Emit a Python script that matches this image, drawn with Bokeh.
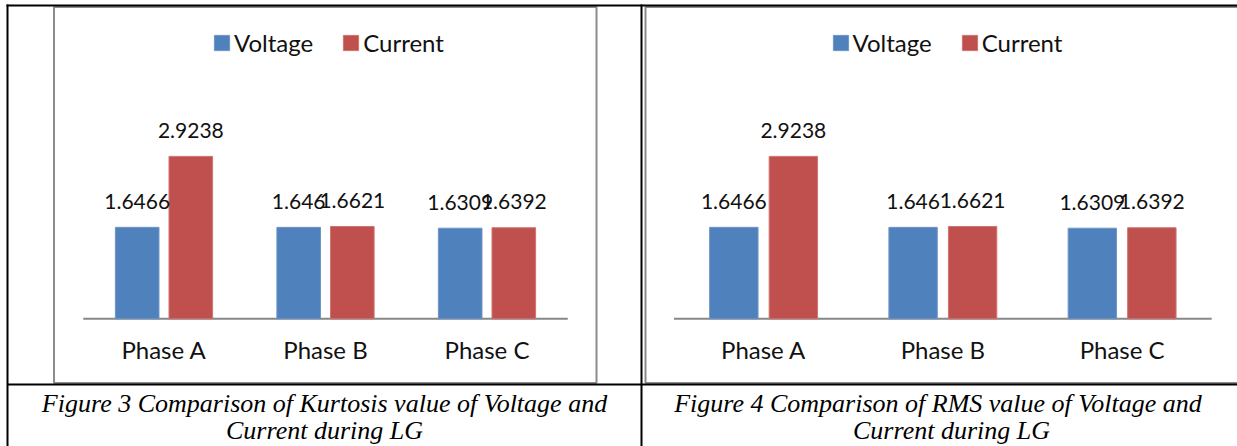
import numpy as np
from bokeh.plotting import figure
from bokeh.models import Range1d, ColumnDataSource, Legend, LegendItem
from bokeh.transform import dodge
from bokeh.core.properties import value
from bokeh.embed import file_html
from bokeh.resources import INLINE

# ---------------- data ----------------
categories = ["Phase A", "Phase B", "Phase C"]
series_names = ["Voltage", "Current"]
kurtosis_voltage = [1.6466, 1.646, 1.6309]
kurtosis_current = [2.9238, 1.6621, 1.6392]
rms_voltage = [1.6466, 1.646, 1.6309]
rms_current = [2.9238, 1.6621, 1.6392]
caption_left = ["Figure 3 Comparison of Kurtosis value of Voltage and", "Current during LG"]
caption_right = ["Figure 4 Comparison of RMS  value of  Voltage and", "Current during LG"]

# ---------------- styles ----------------
W, H = 1237, 446
BLUE, RED = "#4F81BD", "#C0504D"
SANS = "Lato"
SERIF = "Liberation Serif"
TXT = "#111111"
OFF, BW = 0.166, 0.27

p = figure(width=W, height=H, output_backend="svg", toolbar_location=None, title=None,
           x_range=Range1d(-1.01238, 6.64706), y_range=Range1d(-2.2988, 5.7300),
           x_axis_location=None, y_axis_location=None, tools="")
p.min_border = 0
p.min_border_left = p.min_border_right = p.min_border_top = p.min_border_bottom = 0
p.grid.visible = False
p.outline_line_color = None
p.background_fill_color = "white"
p.border_fill_color = "white"
p.extra_x_ranges = {"right": Range1d(-4.2572, 2.6438), "px": Range1d(0, W)}
p.extra_y_ranges = {"px": Range1d(H, 0)}
px = dict(x_range_name="px", y_range_name="px")

# chart-area frames (gray) and table rules (black)
p.quad(left=[53.5, 645], right=[596, 1260], top=[6.5, 6.5], bottom=[382.5, 382.5],
       fill_color=None, line_color="#8c8c8c", line_width=2, **px)
p.segment(x0=[6, 7, 641, 7], y0=[5, 4, 4, 384], x1=[1237, 7, 641, 1237], y1=[5, 446, 446, 384],
          line_color="black", line_width=2, **px)

charts = [
    (kurtosis_voltage, kurtosis_current, None, 212, caption_left, [324, 324]),
    (rms_voltage, rms_current, "right", 830.5, caption_right, [944, 951]),
]

for volt, curr, xr, legx, cap, capx in charts:
    kw = {} if xr is None else {"x_range_name": xr}
    src = ColumnDataSource(dict(
        x=np.arange(len(categories)), cat=categories, v=volt, c=curr,
        vl=[str(a) for a in volt], cl=[str(a) for a in curr]))
    p.segment(x0=[-0.5], x1=[len(categories) - 0.5], y0=[0], y1=[0],
              line_color="#878787", line_width=2, **kw)
    rv = p.vbar(x=dodge("x", -OFF), top="v", bottom=0, width=BW, source=src,
                fill_color=BLUE, line_color="#6f95c6", line_width=1, **kw)
    rc = p.vbar(x=dodge("x", OFF), top="c", bottom=0, width=BW, source=src,
                fill_color=RED, line_color="#cf7472", line_width=1, **kw)
    for col, dx in (("vl", -OFF), ("cl", OFF)):
        p.text(x=dodge("x", dx), y=col[0], text=col, source=src, text_align="center",
               text_baseline="alphabetic", y_offset=-26, text_font=value(SANS),
               text_font_size="21px", text_color=TXT, **kw)
    p.text(x="x", y=0, text="cat", source=src, text_align="center", text_baseline="alphabetic",
           y_offset=31, text_font=value(SANS), text_font_size="24px", text_color=TXT, **kw)
    leg = Legend(items=[LegendItem(label=series_names[0], renderers=[rv]),
                        LegendItem(label=series_names[1], renderers=[rc])],
                 orientation="horizontal", location=(legx, 389),
                 glyph_width=19, glyph_height=19, label_standoff=3, spacing=28,
                 padding=0, margin=0, border_line_color=None, background_fill_alpha=0,
                 label_text_font=SANS, label_text_font_size="24px", label_text_color=TXT)
    p.add_layout(leg, "center")
    p.text(x=capx, y=[402.5, 430], text=cap, text_font=value(SERIF),
           text_font_style="italic", text_font_size="26px", text_align="center",
           text_baseline="alphabetic", text_color="black", **px)

open("out.html", "w").write(file_html(p, INLINE))
